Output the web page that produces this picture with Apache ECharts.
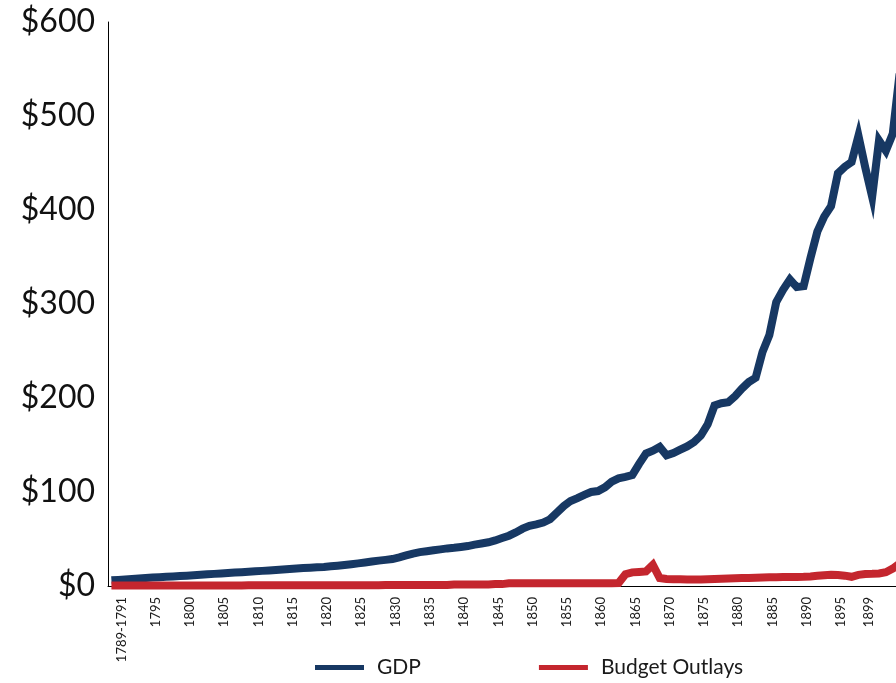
<!DOCTYPE html>
<html>
<head>
<meta charset="utf-8">
<script src="https://cdn.jsdelivr.net/npm/echarts@6/dist/echarts.min.js"></script>
<style>
  html, body { margin: 0; padding: 0; background: #fff; }
  #chart { width: 896px; height: 683px; }
</style>
</head>
<body>
<div id="chart"></div>
<script>
// Fiscal years: the first period covers 1789-1791, then one entry per year
const years = ["1789-1791",
  "1791","1792","1793","1794","1795","1796","1797","1798","1799","1800",
  "1801","1802","1803","1804","1805","1806","1807","1808","1809","1810",
  "1811","1812","1813","1814","1815","1816","1817","1818","1819","1820",
  "1821","1822","1823","1824","1825","1826","1827","1828","1829","1830",
  "1831","1832","1833","1834","1835","1836","1837","1838","1839","1840",
  "1841","1842","1843","1844","1845","1846","1847","1848","1849","1850",
  "1851","1852","1853","1854","1855","1856","1857","1858","1859","1860",
  "1861","1862","1863","1864","1865","1866","1867","1868","1869","1870",
  "1871","1872","1873","1874","1875","1876","1877","1878","1879","1880",
  "1881","1882","1883","1884","1885","1886","1887","1888","1889","1890",
  "1891","1892","1893","1894","1895","1896","1897","1898","1899","1900",
  "1901","1902","1903","1904","1905"];

// Gross domestic product
const gdp = [
  6, 6.5, 7, 7.5, 8, 8.5, 9, 9.4, 9.8, 10.2,
  10.6, 11, 11.4, 11.9, 12.4, 12.9, 13.4, 13.9, 14.3, 14.7,
  15.2, 15.6, 16.1, 16.6, 17.1, 17.6, 18.2, 18.7, 19.1, 19.5,
  19.9, 20.3, 20.9, 21.6, 22.4, 23.2, 24.1, 25, 26, 27,
  27.8, 28.7, 30.5, 32.5, 34.5, 36, 37, 38, 39, 40,
  40.6, 41.5, 42.5, 44, 45.2, 46.5, 48.5, 51, 53.5, 57,
  61, 64, 65.5, 67.5, 71, 78, 85, 90.5, 93.5, 97,
  100, 101, 105, 111, 114.5, 116, 118, 130, 141, 144,
  148, 139, 141.5, 145, 148.5, 153, 160, 172, 192, 194.5,
  195.5, 202, 210, 217, 221.5, 249, 267, 302, 315, 326,
  318, 319, 349, 377, 393, 404, 439, 446, 451, 479,
  445, 414, 474, 463, 481, 545];

// Federal budget outlays
const outlays = [
  0.5, 0.5, 0.5, 0.5, 0.5, 0.5, 0.5, 0.5, 0.5, 0.5,
  0.6, 0.6, 0.6, 0.6, 0.6, 0.6, 0.6, 0.6, 0.6, 0.6,
  0.7, 0.7, 0.7, 0.7, 0.7, 0.7, 0.7, 0.7, 0.7, 0.7,
  0.8, 0.8, 0.8, 0.8, 0.8, 0.8, 0.8, 0.8, 0.8, 0.8,
  1.0, 1.0, 1.0, 1.0, 1.0, 1.0, 1.0, 1.0, 1.0, 1.0,
  1.5, 1.5, 1.5, 1.5, 1.5, 1.5, 2.0, 2.0, 3.0, 3.0,
  3.0, 3.0, 3.0, 3.0, 3.0, 3.0, 3.0, 3.0, 3.0, 3.0,
  3.0, 3.0, 3.0, 3.0, 3.2, 12.5, 14.5, 15, 15.5, 22.5,
  8.5, 7.5, 7.2, 7.2, 7, 7, 7, 7.2, 7.5, 7.7,
  8, 8.2, 8.4, 8.6, 8.8, 9, 9.2, 9.4, 9.5, 9.5,
  9.6, 9.8, 10.2, 10.8, 11.4, 11.9, 11.7, 11, 9.8, 11.8,
  12.8, 13, 13.4, 14.7, 18.5, 24];

const yTicks = { min: 0, max: 600, step: 100 };
const shownYears = ["1789-1791","1795","1800","1805","1810","1815","1820","1825","1830",
  "1835","1840","1845","1850","1855","1860","1865","1870","1875","1880","1885",
  "1890","1895","1899"];

const navy = '#173863';
const red = '#c4262e';

const chart = echarts.init(document.getElementById('chart'), null, { renderer: 'canvas' });

chart.setOption({
  animation: false,
  backgroundColor: '#ffffff',
  // the plot runs slightly past the right edge of the page
  grid: { left: 108, top: 22, width: 795, bottom: 97, containLabel: false, outerBoundsMode: 'none' },
  legend: {
    left: 315,
    top: 657,
    padding: 0,
    itemWidth: 49,
    itemHeight: 5,
    itemGap: 118,
    icon: 'rect',
    textStyle: { fontFamily: 'Lato', fontSize: 21, color: '#1a1a1a', padding: [0, 0, 0, 8] },
    data: ['GDP', 'Budget Outlays']
  },
  xAxis: {
    type: 'category',
    data: years,
    boundaryGap: true,
    axisLine: { show: true, lineStyle: { color: '#000', width: 1 } },
    axisTick: { show: false },
    splitLine: { show: false },
    axisLabel: {
      rotate: 90,
      interval: (idx, val) => shownYears.indexOf(val) !== -1,
      margin: 11,
      verticalAlign: 'top',
      lineHeight: 20,
      fontFamily: 'Lato',
      fontSize: 13,
      color: '#1a1a1a'
    }
  },
  yAxis: {
    type: 'value',
    min: yTicks.min,
    max: yTicks.max,
    interval: yTicks.step,
    axisLine: { show: true, lineStyle: { color: '#000', width: 1 } },
    axisTick: { show: false },
    splitLine: { show: false },
    axisLabel: {
      margin: 13,
      fontFamily: 'Lato',
      fontSize: 32,
      color: '#111',
      formatter: v => '$' + v
    }
  },
  series: [
    {
      name: 'GDP',
      type: 'line',
      data: gdp,
      symbol: 'none',
      color: navy,
      lineStyle: { color: navy, width: 8, cap: 'butt', join: 'miter' }
    },
    {
      name: 'Budget Outlays',
      type: 'line',
      data: outlays,
      symbol: 'none',
      color: red,
      lineStyle: { color: red, width: 8, cap: 'butt', join: 'miter' }
    }
  ]
});
</script>
</body>
</html>
